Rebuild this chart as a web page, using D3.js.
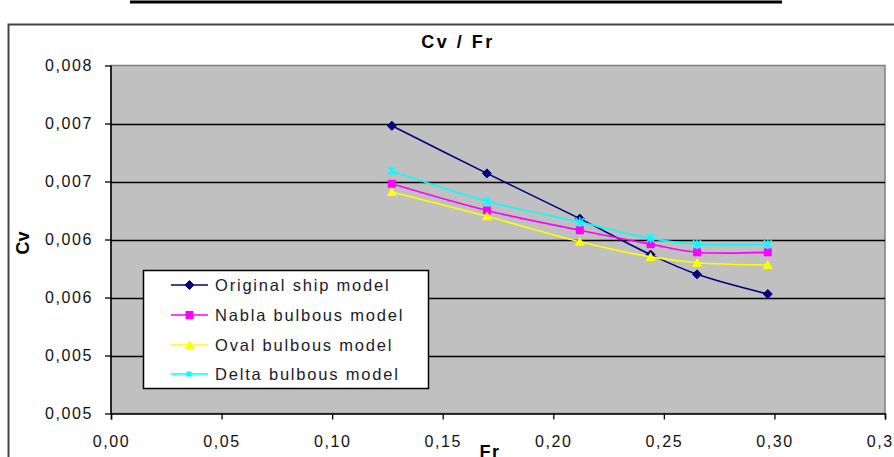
<!DOCTYPE html>
<html><head><meta charset="utf-8">
<script src="https://cdn.jsdelivr.net/npm/d3@7"></script>
<style>body{margin:0;background:#fff}svg{display:block}</style>
</head><body>
<script>
const frValues = [0.127, 0.170, 0.212, 0.244, 0.265, 0.297];
const originalShip = [0.00748, 0.00707, 0.00668, 0.00637, 0.00620, 0.00603];
const nablaBulbous = [0.00698, 0.00675, 0.00658, 0.00646, 0.00639, 0.00639];
const ovalBulbous  = [0.00691, 0.00670, 0.00648, 0.00635, 0.00630, 0.00628];
const deltaBulbous = [0.00709, 0.00683, 0.00665, 0.00651, 0.00646, 0.00646];
const seriesNames = ["Original ship model", "Nabla bulbous model", "Oval bulbous model", "Delta bulbous model"];
const yTickValues = [0.0050, 0.0055, 0.0060, 0.0065, 0.0070, 0.0075, 0.0080];
const yTickLabels = ["0,005", "0,005", "0,006", "0,006", "0,007", "0,007", "0,008"];
const xTickValues = [0, 0.05, 0.10, 0.15, 0.20, 0.25, 0.30, 0.35];
const xTickLabels = ["0,00", "0,05", "0,10", "0,15", "0,20", "0,25", "0,30", "0,35"];

const series = [
  {name: seriesNames[0], values: originalShip, color: "#000080", marker: "diamond"},
  {name: seriesNames[1], values: nablaBulbous, color: "#ff00ff", marker: "square"},
  {name: seriesNames[2], values: ovalBulbous, color: "#ffff00", marker: "triangle"},
  {name: seriesNames[3], values: deltaBulbous, color: "#00ffff", marker: "star"}
];

const W = 894, H = 457;
const L = 111, R = 885, T = 65.5, B = 413.5;
const svg = d3.select("body").append("svg").attr("width", W).attr("height", H);
svg.append("rect").attr("width", W).attr("height", H).attr("fill", "#fff");

// top rule
svg.append("line").attr("x1", 130).attr("x2", 782).attr("y1", 2).attr("y2", 2)
  .attr("stroke", "#000").attr("stroke-width", 3);
// chart frame
svg.append("rect").attr("x", 8.5).attr("y", 24.5).attr("width", 900).attr("height", 460)
  .attr("fill", "none").attr("stroke", "#444").attr("stroke-width", 2);

const x = d3.scaleLinear().domain([0, 0.35]).range([L, R]);
const y = d3.scaleLinear().domain([0.005, 0.008]).range([B, T]);

// plot area
svg.append("rect").attr("x", L).attr("y", T).attr("width", R - L).attr("height", B - T)
  .attr("fill", "#c0c0c0").attr("stroke", "#808080").attr("stroke-width", 1.5);

// gridlines
svg.append("g").selectAll("line").data(yTickValues.filter(v => v > 0.005 && v < 0.008)).join("line")
  .attr("x1", L).attr("x2", R).attr("y1", d => Math.round(y(d)) + 0.5).attr("y2", d => Math.round(y(d)) + 0.5)
  .attr("stroke", "#000").attr("stroke-width", 1.3);

// axes
const yAxis = d3.axisLeft(y).tickValues(yTickValues).tickSize(6).tickPadding(12)
  .tickFormat((d, i) => yTickLabels[i]);
const gy = svg.append("g").attr("transform", `translate(${L},0)`).call(yAxis);
const xAxis = d3.axisBottom(x).tickValues(xTickValues).tickSize(6).tickPadding(16)
  .tickFormat((d, i) => xTickLabels[i]);
const gx = svg.append("g").attr("transform", `translate(0,${B})`).call(xAxis);
[gx, gy].forEach(g => {
  g.selectAll("path.domain").attr("stroke", "#000").attr("stroke-width", 1.5);
  g.selectAll(".tick line").attr("stroke", "#000").attr("stroke-width", 1.3);
  g.selectAll("text").attr("font-family", "Liberation Sans, Arial, sans-serif")
    .attr("font-size", 16).attr("letter-spacing", 1.6).attr("fill", "#111");
});
gy.select("path.domain").attr("d", `M0,${T}V${B}`);

// titles
svg.append("text").attr("x", 458).attr("y", 48).attr("text-anchor", "middle")
  .attr("font-family", "Liberation Sans Narrow, Liberation Sans, Arial, sans-serif")
  .attr("font-weight", "bold").attr("font-size", 18).attr("letter-spacing", 2.5).text("Cv / Fr");
svg.append("text").attr("x", 490).attr("y", 458).attr("text-anchor", "middle")
  .attr("font-family", "Liberation Sans, Arial, sans-serif")
  .attr("font-weight", "bold").attr("font-size", 18).attr("letter-spacing", 1.5).text("Fr");
svg.append("text").attr("transform", "translate(29,243) rotate(-90)").attr("text-anchor", "middle")
  .attr("font-family", "Liberation Sans, Arial, sans-serif")
  .attr("font-weight", "bold").attr("font-size", 18).text("Cv");

function drawMarker(g, type, cx, cy, color) {
  if (type === "diamond") {
    g.append("path").attr("d", `M${cx},${cy-4.5}L${cx+4.5},${cy}L${cx},${cy+4.5}L${cx-4.5},${cy}Z`)
      .attr("fill", color).attr("stroke", color);
  } else if (type === "square") {
    g.append("rect").attr("x", cx - 4).attr("y", cy - 4).attr("width", 8).attr("height", 8)
      .attr("fill", color);
  } else if (type === "triangle") {
    g.append("path").attr("d", `M${cx},${cy-5}L${cx+5},${cy+4}L${cx-5},${cy+4}Z`).attr("fill", color);
  } else {
    g.append("path").attr("d", `M${cx-4},${cy-4}L${cx+4},${cy+4}M${cx-4},${cy+4}L${cx+4},${cy-4}M${cx},${cy-5}V${cy+5}`)
      .attr("stroke", color).attr("stroke-width", 1.5).attr("fill", "none");
  }
}

const line = d3.line().curve(d3.curveCatmullRom.alpha(0.5)).x(d => x(d[0])).y(d => y(d[1]));
series.forEach(s => {
  const pts = frValues.map((f, i) => [f, s.values[i]]);
  const g = svg.append("g");
  g.append("path").attr("d", line(pts)).attr("fill", "none").attr("stroke", s.color).attr("stroke-width", 1.6);
  pts.forEach(p => drawMarker(g, s.marker, x(p[0]), y(p[1]), s.color));
});

// legend
const lg = svg.append("g");
lg.append("rect").attr("x", 143.5).attr("y", 270.5).attr("width", 285).attr("height", 118)
  .attr("fill", "#fff").attr("stroke", "#000").attr("stroke-width", 1.5);
const legendY = [285, 315, 345, 374];
series.forEach((s, i) => {
  const cy = legendY[i];
  lg.append("line").attr("x1", 171).attr("x2", 208).attr("y1", cy).attr("y2", cy)
    .attr("stroke", s.color).attr("stroke-width", 1.6);
  if (s.marker === "star") {
    lg.append("rect").attr("x", 186.5).attr("y", cy - 2.5).attr("width", 5).attr("height", 5).attr("fill", s.color);
  } else drawMarker(lg, s.marker, 189.5, cy, s.color);
  lg.append("text").attr("x", 215).attr("y", cy + 6)
    .attr("font-family", "Liberation Sans, Arial, sans-serif").attr("font-size", 16.5)
    .attr("letter-spacing", 1.8).attr("fill", "#1a1a2e").text(s.name);
});
</script>
</body></html>
